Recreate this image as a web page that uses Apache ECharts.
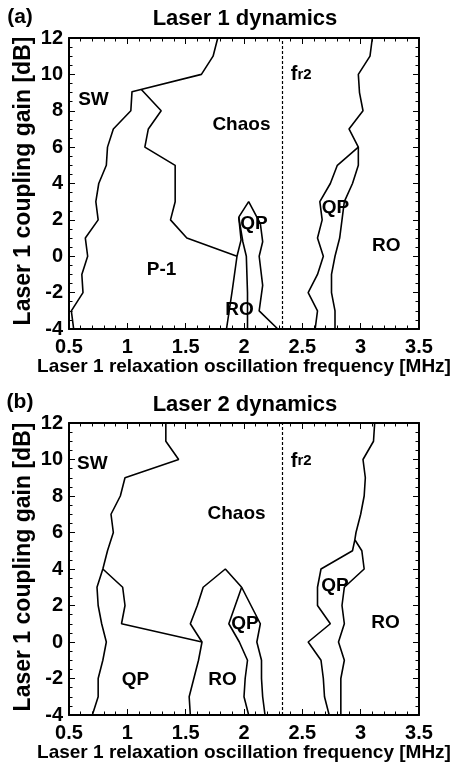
<!DOCTYPE html>
<html><head><meta charset="utf-8">
<script src="https://cdn.jsdelivr.net/npm/echarts@6/dist/echarts.min.js"></script>
<style>html,body{margin:0;padding:0;background:#fff}#c{width:456px;height:764px}</style>
</head><body><div id="c"></div>
<script>
// ---------- axis ticks ----------
const xTicks = [0.5, 1, 1.5, 2, 2.5, 3, 3.5];
const yTicks = [-4, -2, 0, 2, 4, 6, 8, 10, 12];
const fr2 = 2.33;

// ---------- panel (a): Laser 1 dynamics ----------
const a_sw = [[1.775,12],[1.735,11],[1.635,10],[1.04,9.05],[1.03,8],[0.88,7],[0.83,6],[0.82,5],[0.755,4],[0.73,3],[0.75,2],[0.64,1],[0.66,0],[0.61,-1],[0.62,-2],[0.52,-3],[0.54,-4]];
const a_p1 = [[1.12,9.17],[1.29,8],[1.18,7],[1.15,6],[1.41,5],[1.41,3],[1.37,2],[1.51,1],[1.94,0]];
const a_roLeft = [[1.955,2.15],[1.975,0.9],[1.94,0],[1.90,-1.85],[1.85,-4]];
const a_qpMid = [[1.955,2.15],[1.99,0.8],[2.02,0],[2.03,-2],[2.03,-4]];
const a_qpRight = [[1.955,2.15],[2.04,3],[2.14,1.8],[2.16,0.8],[2.13,0],[2.16,-1.6],[2.13,-3],[2.29,-4]];
const a_rightOuter = [[3.10,12],[3.08,11],[2.98,10],[2.99,9],[3.02,8],[2.90,7],[2.98,6],[2.98,5],[2.93,4],[2.86,3],[2.84,2],[2.82,1],[2.78,0],[2.75,-1],[2.75,-2],[2.78,-3],[2.78,-4]];
const a_rightInner = [[2.98,6],[2.80,5],[2.74,4],[2.65,3],[2.67,2],[2.63,1],[2.68,0],[2.63,-1],[2.55,-2],[2.63,-3],[2.61,-4]];
const a_labels = [['SW',0.71,8.59],['Chaos',1.978,7.22],['fr2',2.49,9.97],['QP',2.784,2.65],['RO',3.22,0.57],['QP',2.086,1.8],['RO',1.961,-2.95],['P-1',1.293,-0.75]];

// ---------- panel (b): Laser 2 dynamics ----------
const b_sw = [[1.33,12],[1.33,11],[1.44,10],[0.98,9],[0.94,8],[0.86,7],[0.88,6],[0.83,5],[0.79,4],[0.74,3],[0.75,2],[0.78,1],[0.82,0],[0.79,-1],[0.75,-2],[0.75,-3],[0.70,-4]];
const b_qpTop = [[0.79,4],[0.96,3],[0.98,2],[0.95,1],[1.64,0]];
const b_roLeft = [[1.98,3],[1.84,4],[1.65,3],[1.60,2],[1.54,1],[1.64,0],[1.61,-1],[1.57,-2],[1.53,-3],[1.54,-4]];
const b_qpMid = [[1.98,3],[1.87,1],[1.96,0],[2.03,-1],[2.01,-2],[2.00,-3],[2.04,-4]];
const b_qpRight = [[1.98,3],[2.06,2],[2.14,1],[2.11,0],[2.15,-1],[2.15,-2],[2.16,-3],[2.18,-4]];
const b_rightOuter = [[3.12,12],[3.11,11],[3.02,10],[3.04,9],[3.03,8],[3.00,7],[2.96,6],[2.95,5.6],[3.01,5],[3.03,4],[2.86,3],[2.84,2],[2.86,1],[2.81,0],[2.86,-1],[2.83,-2],[2.83,-3],[2.83,-4]];
const b_rightInner = [[2.95,5.6],[2.93,5],[2.66,4],[2.63,3],[2.63,2],[2.74,1],[2.55,0],[2.66,-1],[2.68,-2],[2.69,-3],[2.73,-4]];
const b_labels = [['SW',0.70,9.77],['Chaos',1.936,7.03],['fr2',2.49,9.9],['QP',2.78,3.09],['RO',3.213,1.07],['QP',2.009,0.98],['RO',1.816,-2.05],['QP',1.07,-2.05]];

// ---------- build ----------
const FONT = 'Liberation Sans, Arial, Helvetica, sans-serif';
const xMin = xTicks[0], xMax = xTicks[xTicks.length-1], xInt = xTicks[1]-xTicks[0];
const yMin = yTicks[0], yMax = yTicks[yTicks.length-1], yInt = yTicks[1]-yTicks[0];

function xAx(gi, pos, showLabel) {
  return {
    type: 'value', gridIndex: gi, position: pos, min: xMin, max: xMax, interval: xInt,
    axisLine: {show: true, onZero: false, lineStyle: {color: '#000', width: 2}},
    axisTick: {show: true, inside: true, length: 6, lineStyle: {color: '#000', width: 1}},
    minorTick: {show: true, splitNumber: 5, length: 3.5, lineStyle: {color: '#000', width: 1}},
    axisLabel: {show: showLabel, color: '#000', fontSize: 20, fontWeight: 'bold', fontFamily: FONT, margin: 8},
    splitLine: {show: false}
  };
}
function yAx(gi, pos, showLabel) {
  return {
    type: 'value', gridIndex: gi, position: pos, min: yMin, max: yMax, interval: yInt,
    axisLine: {show: true, onZero: false, lineStyle: {color: '#000', width: 2}},
    axisTick: {show: true, inside: true, length: 6, lineStyle: {color: '#000', width: 1}},
    minorTick: {show: true, splitNumber: 4, length: 3.5, lineStyle: {color: '#000', width: 1}},
    axisLabel: {show: showLabel, color: '#000', fontSize: 20, fontWeight: 'bold', fontFamily: FONT, margin: 6},
    splitLine: {show: false}
  };
}
function lineSeries(data, xi, yi) {
  return {type: 'line', xAxisIndex: xi, yAxisIndex: yi, data: data, symbol: 'none', smooth: false,
    lineStyle: {color: '#000', width: 1.6}, animation: false, silent: true, z: 3};
}
function dashSeries(xi, yi) {
  return {type: 'line', xAxisIndex: xi, yAxisIndex: yi, data: [[fr2, yMin], [fr2, yMax]], symbol: 'none',
    lineStyle: {color: '#000', width: 1.2, type: [3, 2]}, animation: false, silent: true, z: 2};
}
function labelSeries(labels, xi, yi) {
  return {type: 'scatter', xAxisIndex: xi, yAxisIndex: yi, symbolSize: 1,
    itemStyle: {color: 'rgba(0,0,0,0)', opacity: 1},
    animation: false, silent: true, z: 5,
    data: labels.map(l => ({name: l[0], value: [l[1], l[2]]})),
    label: {show: true, position: 'inside', color: '#000', opacity: 1, fontSize: 19, fontWeight: 'bold', fontFamily: FONT,
      formatter: p => p.name === 'fr2' ? '{f|f}{r|r2}' : p.name,
      rich: {f: {fontSize: 20, fontWeight: 'bold', fontFamily: FONT, color: '#000', lineHeight: 20},
             r: {fontSize: 15, fontWeight: 'bold', fontFamily: FONT, color: '#000', lineHeight: 20}}}
  };
}
function txt(text, x, y, size, rot) {
  return {type: 'text', x: x, y: y, rotation: rot || 0, z: 10,
    style: {text: text, fill: '#000', font: 'bold ' + size + 'px ' + FONT, textAlign: 'center', textVerticalAlign: 'middle'}};
}

const chart = echarts.init(document.getElementById('c'), null, {renderer: 'canvas'});
chart.setOption({
  backgroundColor: '#fff',
  animation: false,
  grid: [
    {left: 69, top: 38, width: 350, height: 291},
    {left: 69, top: 423, width: 350, height: 292}
  ],
  xAxis: [xAx(0, 'bottom', true), xAx(0, 'top', false), xAx(1, 'bottom', true), xAx(1, 'top', false)],
  yAxis: [yAx(0, 'left', true), yAx(0, 'right', false), yAx(1, 'left', true), yAx(1, 'right', false)],
  series: [
    dashSeries(0, 0),
    lineSeries(a_sw, 0, 0), lineSeries(a_p1, 0, 0), lineSeries(a_roLeft, 0, 0), lineSeries(a_qpMid, 0, 0),
    lineSeries(a_qpRight, 0, 0), lineSeries(a_rightOuter, 0, 0), lineSeries(a_rightInner, 0, 0),
    labelSeries(a_labels, 0, 0),
    dashSeries(2, 2),
    lineSeries(b_sw, 2, 2), lineSeries(b_qpTop, 2, 2), lineSeries(b_roLeft, 2, 2), lineSeries(b_qpMid, 2, 2),
    lineSeries(b_qpRight, 2, 2), lineSeries(b_rightOuter, 2, 2), lineSeries(b_rightInner, 2, 2),
    labelSeries(b_labels, 2, 2)
  ],
  graphic: [
    txt('(a)', 20, 17, 21), txt('Laser 1 dynamics', 245, 19, 22),
    txt('Laser 1 coupling gain [dB]', 24, 181, 23, Math.PI / 2),
    txt('Laser 1 relaxation oscillation frequency [MHz]', 244, 367, 19),
    txt('(b)', 20, 402, 21), txt('Laser 2 dynamics', 245, 405, 22),
    txt('Laser 1 coupling gain [dB]', 24, 567, 23, Math.PI / 2),
    txt('Laser 1 relaxation oscillation frequency [MHz]', 244, 753, 19)
  ]
});
</script></body></html>
